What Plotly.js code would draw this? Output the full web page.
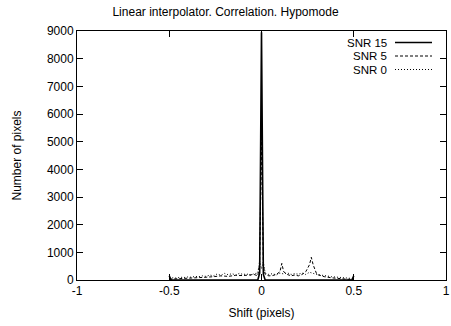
<!DOCTYPE html>
<html>
<head>
<meta charset="utf-8">
<script src="https://cdn.plot.ly/plotly-3.0.1.min.js"></script>
<style>html,body{margin:0;padding:0;background:#fff;}#chart{width:451px;height:326px;}</style>
</head>
<body>
<div id="chart"></div>
<script>
const seriesNames = ["SNR 15", "SNR 5", "SNR 0"];
const xTicks = [-1, -0.5, 0, 0.5, 1];
const xTickLabels = ["-1", "-0.5", "0", "0.5", "1"];
const yTicks = [0, 1000, 2000, 3000, 4000, 5000, 6000, 7000, 8000, 9000];

const xSnr15 = [-0.5, -0.49, -0.02, -0.01, 0, 0.01, 0.02, 0.49, 0.5];
const ySnr15 = [150, 0, 0, 250, 8950, 200, 0, 0, 150];

const xSnr5 = [-0.5, -0.46, -0.42, -0.38, -0.34, -0.3, -0.26, -0.22, -0.18, -0.14, -0.1, -0.06, -0.04, -0.02, -0.01, 0, 0.01, 0.02, 0.04, 0.06, 0.08, 0.1, 0.11, 0.12, 0.14, 0.16, 0.18, 0.2, 0.22, 0.24, 0.26, 0.27, 0.28, 0.3, 0.34, 0.38, 0.42, 0.46, 0.5];
const ySnr5 = [30, 40, 50, 60, 80, 100, 120, 150, 130, 170, 160, 180, 200, 150, 600, 5200, 500, 200, 150, 160, 200, 300, 600, 300, 200, 150, 180, 150, 200, 300, 550, 820, 550, 200, 120, 80, 50, 30, 20];

const xSnr0 = [-0.5, -0.48, -0.46, -0.44, -0.42, -0.4, -0.38, -0.36, -0.34, -0.32, -0.3, -0.28, -0.26, -0.24, -0.22, -0.2, -0.18, -0.16, -0.14, -0.12, -0.1, -0.08, -0.06, -0.04, -0.02, -0.01, 0, 0.01, 0.02, 0.04, 0.06, 0.08, 0.1, 0.12, 0.14, 0.16, 0.18, 0.2, 0.22, 0.24, 0.26, 0.28, 0.3, 0.32, 0.34, 0.36, 0.38, 0.4, 0.42, 0.44, 0.46, 0.48, 0.5];
const ySnr0 = [60, 80, 70, 100, 90, 110, 100, 130, 120, 150, 130, 180, 150, 220, 170, 240, 190, 230, 180, 240, 200, 220, 170, 230, 250, 700, 400, 650, 250, 200, 230, 180, 250, 220, 260, 200, 230, 210, 250, 200, 280, 230, 200, 180, 150, 140, 120, 110, 90, 80, 70, 60, 50];

const dashes = ["solid", "3px,2px", "1px,2px"];
const widths = [1.6, 1, 1];

const traces = [
  {x: xSnr15, y: ySnr15, name: seriesNames[0]},
  {x: xSnr5, y: ySnr5, name: seriesNames[1]},
  {x: xSnr0, y: ySnr0, name: seriesNames[2]}
].map((t, i) => Object.assign(t, {
  type: "scatter", mode: "lines", showlegend: false,
  line: {color: "#000", width: widths[i], dash: dashes[i]}
}));

const font = {family: "Liberation Sans, Arial, sans-serif", size: 12, color: "#000"};
const keyFont = {family: "Liberation Sans, Arial, sans-serif", size: 11.5, color: "#000"};

// custom gnuplot-style key (text right, sample to the right)
const keyY = [42.5, 56, 69.5];
const annotations = seriesNames.map((n, i) => ({
  xref: "paper", yref: "paper", x: (388 - 77) / 369, y: 1 - (keyY[i] - 31) / 249,
  xanchor: "right", yanchor: "middle", text: n, showarrow: false, font: keyFont,
  borderpad: 0
}));
const shapes = seriesNames.map((n, i) => ({
  type: "line", xref: "paper", yref: "paper",
  x0: (395 - 77) / 369, x1: (432 - 77) / 369,
  y0: 1 - (keyY[i] - 31) / 249, y1: 1 - (keyY[i] - 31) / 249,
  line: {color: "#000", width: widths[i], dash: dashes[i]}
}));

const axisCommon = {
  showline: true, linecolor: "#000", linewidth: 1, mirror: "allticks",
  ticks: "inside", ticklen: 6, tickcolor: "#000", tickwidth: 1,
  showgrid: false, zeroline: false, tickfont: font
};

const layout = {
  width: 451, height: 326,
  margin: {l: 77, r: 5, t: 31, b: 46},
  paper_bgcolor: "#fff", plot_bgcolor: "#fff",
  font: font,
  title: {text: "Linear interpolator. Correlation. Hypomode", font: font, x: 0.5, xanchor: "center", y: 0.965, yanchor: "middle"},
  xaxis: Object.assign({}, axisCommon, {
    range: [-1, 1], tickmode: "array", tickvals: xTicks, ticktext: xTickLabels,
    title: {text: "Shift (pixels)", font: font, standoff: 11}
  }),
  yaxis: Object.assign({}, axisCommon, {
    range: [0, 9000], tickmode: "array", tickvals: yTicks,
    title: {text: "Number of pixels", font: font, standoff: 22}
  }),
  annotations: annotations,
  shapes: shapes
};

Plotly.newPlot("chart", traces, layout, {staticPlot: true, displayModeBar: false});
</script>
</body>
</html>
